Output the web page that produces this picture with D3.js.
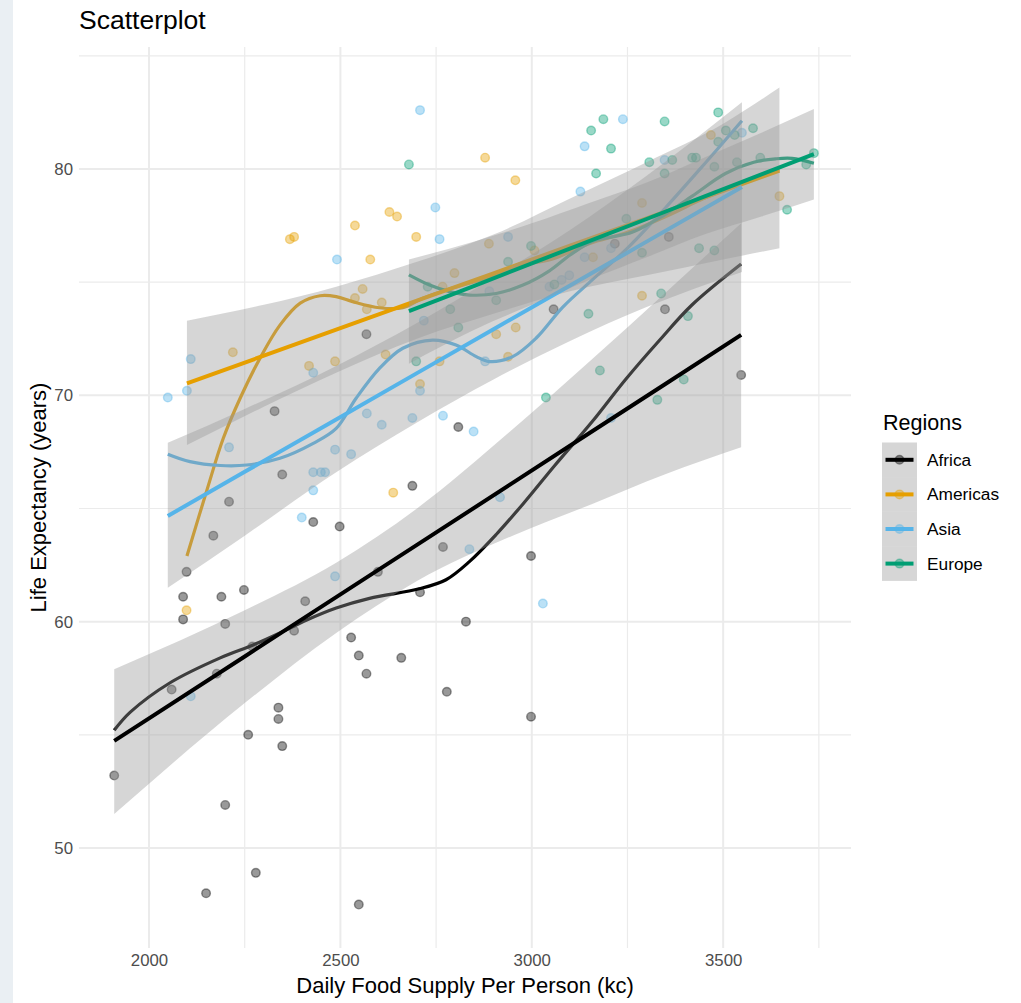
<!DOCTYPE html>
<html>
<head>
<meta charset="utf-8">
<script src="https://cdn.jsdelivr.net/npm/d3@7"></script>
<style>
  body { margin: 0; background: #fff; }
  svg { display: block; font-family: "Liberation Sans", Arial, sans-serif; }
</style>
</head>
<body>
<svg id="chart" width="1021" height="1003"></svg>
<script>
// regions and colours (ggplot palette)
const regions = ["Africa", "Americas", "Asia", "Europe"];
const regionColors = ["#000000", "#E69F00", "#56B4E9", "#009E73"];

const xTicks = [2000, 2500, 3000, 3500];
const xMinor = [2250, 2750, 3250, 3750];
const yTicks = [50, 60, 70, 80];
const yMinor = [55, 65, 75, 85];

// points: [food supply, life expectancy]
const africaPts = [
  [2328, 69.3], [2348, 66.5], [2568, 72.7], [3057, 73.8], [2808, 68.6], [2688, 66.0],
  [3348, 73.8], [3547, 70.9], [3358, 77.0], [3217, 76.7], [2209, 65.3], [2429, 64.4],
  [2168, 63.8], [2098, 62.2], [2089, 61.1], [2189, 61.1], [2248, 61.4], [2089, 60.1],
  [2199, 59.9], [2408, 60.9], [2379, 59.6], [2177, 57.7], [2059, 57.0], [2338, 56.2],
  [2270, 58.9], [2498, 64.2], [2598, 62.2], [2768, 63.3], [2998, 62.9], [2708, 61.3],
  [2828, 60.0], [2528, 59.3], [2548, 58.5], [2659, 58.4], [2568, 57.7], [2778, 56.9],
  [2998, 55.8], [2338, 55.7], [2259, 55.0], [2348, 54.5], [1909, 53.2], [2199, 51.9],
  [2279, 48.9], [2149, 48.0], [2548, 47.5]
];
const americasPts = [
  [2878, 80.5], [2957, 79.5], [2538, 77.5], [2628, 78.1], [2648, 77.9], [2698, 77.0],
  [2578, 76.0], [2888, 76.7], [3007, 76.4], [2368, 76.9], [2379, 77.0], [2558, 74.7],
  [2538, 74.3], [2608, 74.1], [2569, 73.8], [2798, 75.4], [2767, 74.8], [2907, 72.7],
  [2958, 73.0], [2618, 71.8], [2486, 71.5], [2759, 71.5], [2938, 71.7], [2708, 70.5],
  [2638, 65.7], [2219, 71.9], [2418, 71.3], [2098, 60.5], [3288, 74.4], [3468, 81.5],
  [3647, 78.8], [3288, 78.5], [3160, 76.1]
];
const asiaPts = [
  [2708, 82.6], [3138, 81.0], [3127, 79.0], [2748, 78.3], [2759, 76.9], [2491, 76.0],
  [2938, 77.0], [3138, 76.1], [3238, 82.2], [3549, 81.6], [3347, 80.4], [3207, 76.5],
  [2109, 71.6], [2049, 69.9], [2099, 70.2], [2209, 67.7], [2429, 71.0], [2429, 66.6],
  [2449, 66.6], [2460, 66.6], [2486, 67.6], [2429, 65.8], [2889, 74.6], [2718, 73.3],
  [2878, 71.5], [3046, 74.8], [3078, 75.1], [3098, 75.3], [2708, 70.2], [2569, 69.2],
  [2608, 68.7], [2688, 69.0], [2768, 69.1], [2848, 68.4], [2528, 67.4], [3207, 69.0],
  [2399, 64.6], [2486, 62.0], [2109, 56.7], [2837, 63.2], [2917, 65.5], [3029, 60.8]
];
const europePts = [
  [2679, 80.2], [3155, 81.7], [2998, 76.6], [2938, 75.9], [3487, 82.5], [3187, 82.2],
  [3347, 82.1], [3207, 80.9], [3168, 79.8], [3507, 81.7], [3530, 81.5], [3578, 81.8],
  [3487, 81.2], [3307, 80.3], [3367, 80.4], [3419, 80.5], [3429, 80.5], [3597, 80.5],
  [3737, 80.7], [3717, 80.2], [3347, 79.8], [3477, 80.1], [3536, 80.3], [3667, 78.2],
  [3247, 77.8], [3288, 76.3], [3437, 76.5], [3477, 76.4], [2728, 74.8], [2907, 74.2],
  [2787, 73.8], [2808, 73.0], [2698, 71.5], [3059, 74.9], [3148, 73.6], [3037, 69.9],
  [3338, 74.5], [3408, 73.5], [3178, 71.1], [3397, 70.7], [3328, 69.8]
];

// loess curves (no band): [x, fitted]
const africaLoess = [
  [1909, 55.2], [1951, 56.0], [2055, 57.3], [2186, 58.4], [2272, 58.97], [2342, 59.5],
  [2412, 60.07], [2489, 60.6], [2576, 61.03], [2706, 61.45], [2776, 61.85], [2837, 62.65],
  [2907, 63.85], [2977, 65.2], [3060, 66.9], [3158, 68.84], [3245, 70.7], [3332, 72.4],
  [3419, 74.0], [3547, 75.8]
];
const americasLoess = [
  [2099, 62.9], [2151, 65.8], [2194, 68.1], [2238, 69.87], [2290, 71.64], [2342, 73.1],
  [2395, 74.07], [2447, 74.4], [2489, 74.36], [2532, 74.14], [2602, 73.87], [2663, 73.87],
  [2715, 74.29], [2776, 74.65], [2881, 75.17], [2977, 75.76], [3050, 76.0], [3150, 76.7],
  [3250, 77.2], [3350, 77.9], [3450, 78.7], [3550, 79.4], [3647, 80.0]
];
const asiaLoess = [
  [2049, 67.4], [2107, 67.07], [2186, 66.9], [2255, 66.92], [2342, 67.22], [2429, 67.88],
  [2489, 68.54], [2541, 69.87], [2602, 71.19], [2663, 72.08], [2741, 72.44], [2802, 72.22],
  [2855, 71.71], [2889, 71.49], [2950, 71.71], [3011, 72.52], [3081, 73.9], [3158, 75.1],
  [3250, 76.5], [3350, 78.3], [3450, 80.2], [3549, 82.13]
];
const europeLoess = [
  [2679, 75.32], [2733, 74.87], [2785, 74.58], [2837, 74.43], [2907, 74.5], [2977, 74.87],
  [3046, 75.5], [3100, 76.2], [3158, 76.8], [3210, 77.0], [3262, 77.2], [3340, 77.9],
  [3419, 78.8], [3506, 79.8], [3580, 80.3], [3637, 80.45], [3680, 80.47], [3737, 80.25]
];

// linear fits with 95% band: [x, fit, lower, upper]
const africaLm = [
  [1909, 54.73, 51.5, 57.9], [2250, 58.46, 56.4, 60.5], [2489, 61.08, 59.5, 62.6],
  [2700, 63.39, 61.8, 65.0], [2950, 66.13, 63.8, 68.5], [3158, 68.41, 65.2, 71.6],
  [3347, 70.48, 66.5, 74.5], [3547, 72.67, 67.7, 77.6]
];
const americasLm = [
  [2099, 70.53, 67.8, 73.3], [2300, 71.75, 69.5, 74.0], [2489, 72.90, 71.0, 74.8],
  [2700, 74.18, 72.5, 75.9], [2900, 75.39, 73.6, 77.1], [3100, 76.61, 74.6, 78.7],
  [3300, 77.82, 75.3, 80.3], [3500, 79.03, 76.0, 82.0], [3647, 79.93, 76.5, 83.6]
];
const asiaLm = [
  [2049, 64.67, 61.5, 67.9], [2250, 66.62, 63.8, 69.4], [2489, 68.93, 66.6, 71.3],
  [2700, 70.98, 68.8, 73.2], [2900, 72.92, 70.7, 75.2], [3100, 74.85, 72.4, 77.3],
  [3300, 76.79, 73.9, 79.7], [3549, 79.20, 75.45, 82.95]
];
const europeLm = [
  [2679, 73.72, 71.4, 76.0], [2850, 74.84, 72.9, 76.8], [3000, 75.83, 74.0, 77.6],
  [3150, 76.81, 75.1, 78.5], [3300, 77.79, 76.1, 79.4], [3450, 78.78, 77.1, 80.5],
  [3600, 79.76, 77.9, 81.6], [3737, 80.66, 78.65, 82.65]
];

const pointSets = [africaPts, americasPts, asiaPts, europePts];
const loessSets = [africaLoess, americasLoess, asiaLoess, europeLoess];
const lmSets = [africaLm, americasLm, asiaLm, europeLm];

const svg = d3.select("#chart");

// page strip on the left
svg.append("rect").attr("x", 0).attr("y", 0).attr("width", 13).attr("height", 1003)
  .attr("fill", "#eaeff3");

const panel = { left: 79, right: 851, top: 47, bottom: 948 };

const x = d3.scaleLinear().domain([1817, 3834]).range([panel.left, panel.right]);
const y = d3.scaleLinear().domain([45.58, 85.39]).range([panel.bottom, panel.top]);

// grid
const grid = svg.append("g").attr("stroke", "#ebebeb").attr("fill", "none");
grid.selectAll(".vmin").data(xMinor.filter(function (d) { return x(d) < panel.right; }))
  .enter().append("line")
  .attr("x1", function (d) { return x(d); }).attr("x2", function (d) { return x(d); })
  .attr("y1", panel.top).attr("y2", panel.bottom).attr("stroke-width", 1.2);
grid.selectAll(".hmin").data(yMinor).enter().append("line")
  .attr("x1", panel.left).attr("x2", panel.right)
  .attr("y1", function (d) { return y(d); }).attr("y2", function (d) { return y(d); })
  .attr("stroke-width", 1.2);
grid.selectAll(".vmaj").data(xTicks).enter().append("line")
  .attr("x1", function (d) { return x(d); }).attr("x2", function (d) { return x(d); })
  .attr("y1", panel.top).attr("y2", panel.bottom).attr("stroke-width", 2);
grid.selectAll(".hmaj").data(yTicks).enter().append("line")
  .attr("x1", panel.left).attr("x2", panel.right)
  .attr("y1", function (d) { return y(d); }).attr("y2", function (d) { return y(d); })
  .attr("stroke-width", 2);

// points
pointSets.forEach(function (pts, i) {
  svg.append("g").selectAll("circle").data(pts).enter().append("circle")
    .attr("cx", function (d) { return x(d[0]); })
    .attr("cy", function (d) { return y(d[1]); })
    .attr("r", 4.3)
    .attr("fill", regionColors[i]).attr("fill-opacity", 0.4)
    .attr("stroke", regionColors[i]).attr("stroke-opacity", 0.4)
    .attr("stroke-width", 1.4);
});

// loess lines (drawn under the lm bands)
const loessLine = d3.line()
  .x(function (d) { return x(d[0]); })
  .y(function (d) { return y(d[1]); })
  .curve(d3.curveCatmullRom);
loessSets.forEach(function (pts, i) {
  svg.append("path").datum(pts).attr("d", loessLine)
    .attr("fill", "none").attr("stroke", regionColors[i]).attr("stroke-width", 3.2);
});

// lm bands and lines, group by group
const band = d3.area()
  .x(function (d) { return x(d[0]); })
  .y0(function (d) { return y(d[2]); })
  .y1(function (d) { return y(d[3]); })
  .curve(d3.curveMonotoneX);
const fitLine = d3.line()
  .x(function (d) { return x(d[0]); })
  .y(function (d) { return y(d[1]); });
lmSets.forEach(function (rows, i) {
  svg.append("path").datum(rows).attr("d", band)
    .attr("fill", "#999999").attr("fill-opacity", 0.4);
  svg.append("path").datum(rows).attr("d", fitLine)
    .attr("fill", "none").attr("stroke", regionColors[i]).attr("stroke-width", 4);
});

// axes (labels only)
const xAxis = svg.append("g").attr("transform", "translate(0," + (panel.bottom + 2) + ")")
  .call(d3.axisBottom(x).tickValues(xTicks).tickSize(0).tickPadding(4).tickFormat(d3.format("d")));
const yAxis = svg.append("g").attr("transform", "translate(" + (panel.left - 2) + ",0)")
  .call(d3.axisLeft(y).tickValues(yTicks).tickSize(0).tickPadding(4).tickFormat(d3.format("d")));
[xAxis, yAxis].forEach(function (a) {
  a.select(".domain").remove();
  a.selectAll("text").attr("font-size", 16.8).attr("fill", "#4d4d4d")
    .attr("font-family", "Liberation Sans, Arial, sans-serif");
});

// titles
svg.append("text").attr("x", 79).attr("y", 29).attr("font-size", 26.5).attr("fill", "#000")
  .text("Scatterplot");
svg.append("text").attr("x", 465).attr("y", 993)
  .attr("text-anchor", "middle").attr("font-size", 22).attr("fill", "#000")
  .text("Daily Food Supply Per Person (kc)");
svg.append("text")
  .attr("transform", "translate(46," + ((panel.top + panel.bottom) / 2) + ") rotate(-90)")
  .attr("text-anchor", "middle").attr("font-size", 22).attr("fill", "#000")
  .text("Life Expectancy (years)");

// legend
const legend = svg.append("g").attr("transform", "translate(882,0)");
legend.append("text").attr("x", 1).attr("y", 430).attr("font-size", 21.5).attr("fill", "#000")
  .text("Regions");
const keyH = 34.6, keyTop = 442.5;
regions.forEach(function (r, i) {
  const cy = keyTop + keyH * i + keyH / 2;
  legend.append("rect").attr("x", 0).attr("y", keyTop + keyH * i).attr("width", 35).attr("height", keyH)
    .attr("fill", "#999999").attr("fill-opacity", 0.4);
  legend.append("line").attr("x1", 3.5).attr("x2", 31.5).attr("y1", cy).attr("y2", cy)
    .attr("stroke", regionColors[i]).attr("stroke-width", 4);
  legend.append("circle").attr("cx", 17.5).attr("cy", cy).attr("r", 4.3)
    .attr("fill", regionColors[i]).attr("fill-opacity", 0.4)
    .attr("stroke", regionColors[i]).attr("stroke-opacity", 0.4).attr("stroke-width", 1.4);
  legend.append("text").attr("x", 45).attr("y", cy + 6).attr("font-size", 17.3).attr("fill", "#000")
    .text(r);
});
</script>
</body>
</html>
